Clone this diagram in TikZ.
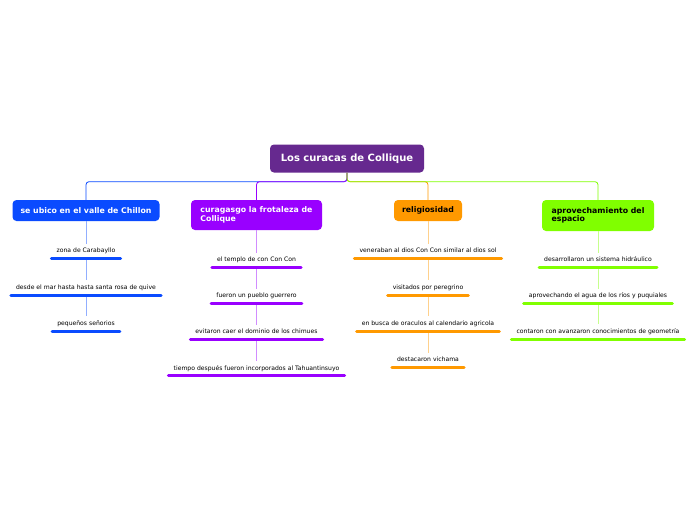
\documentclass[tikz,border=0pt]{standalone}
\usepackage{fontspec}
\setmainfont{DejaVu Sans}
\usetikzlibrary{positioning}
\definecolor{rootpurp}{HTML}{66298F}
\definecolor{chblue}{HTML}{0A4BFF}
\definecolor{chpurp}{HTML}{9900FF}
\definecolor{chorng}{HTML}{FF9900}
\definecolor{chgreen}{HTML}{80FF00}

\begin{document}
\begin{tikzpicture}[
    x=1pt, y=-1pt,
    every node/.style={font=\fontsize{6.1}{7.5}\selectfont},
    rootbox/.style={
      rectangle, rounded corners=4pt, fill=rootpurp, text=white,
      minimum width=154pt, minimum height=28pt,
      font=\fontsize{10}{12}\selectfont\bfseries
    },
    topic/.style={
      rectangle, rounded corners=4pt, fill=#1, align=left,
      minimum height=21pt, inner xsep=8pt,
      font=\fontsize{7.8}{8.6}\selectfont\bfseries
    },
    leaf/.style={inner xsep=5pt, inner ysep=4.3pt, text height=4.6pt, text depth=1.4pt},
    bar/.style={draw=#1, line width=3pt, line cap=round},
    link/.style={draw=#1, line width=0.8pt, rounded corners=3pt},
    twig/.style={draw=#1!45, line width=0.7pt},
  ]
  \useasboundingbox[fill=white] (0,0) rectangle (696,520);

  % ============ Root ============
  \node[rootbox] (root) at (347,158.5) {Los curacas de Collique};

  % ============ Topics ============
  \node[topic=chblue, text=white, minimum width=147pt] (chillon) at (86,210.5)
    {se ubico en el valle de Chillon};
  \node[topic=chpurp, text=white, minimum width=131pt, minimum height=30pt] (colliq) at (256.5,215)
    {curagasgo la frotaleza de\\Collique};
  \node[topic=chorng, text=black, minimum width=68pt] (relig) at (428,210.5)
    {religiosidad};
  \node[topic=chgreen, text=black, minimum width=112pt, minimum height=31pt] (espacio) at (598,215.5)
    {aprovechamiento del\\espacio};

  % ============ Root -> Topics ============
  \draw[link=chblue]  (root.south) -- ++(0,9) -| (chillon.north);
  \draw[link=chorng]  (root.south) -- ++(0,9) -| (relig.north);
  \draw[link=chpurp]  (root.south) -- ++(0,9) -| (colliq.north);
  \draw[link=chgreen] (root.south) -- ++(0,9) -| (espacio.north);

  % ============ Chillon ============
  \node[leaf, below=22.4pt of chillon] (c1) {zona de Carabayllo};
  \node[leaf, below=21.4pt of c1] (c2) {desde el mar hasta hasta santa rosa de quive};
  \node[leaf, below=21.4pt of c2] (c3) {pequeños señorios};

  % ============ Collique ============
  \node[leaf, below=22.4pt of colliq] (f1) {el templo de con Con Con};
  \node[leaf, below=21.1pt of f1] (f2) {fueron un pueblo guerrero};
  \node[leaf, below=21.1pt of f2] (f3) {evitaron caer el dominio de los chimues};
  \node[leaf, below=21.1pt of f3] (f4) {tiempo después fueron incorporados al Tahuantinsuyo};

  % ============ Religiosidad ============
  \node[leaf, below=22.4pt of relig] (r1) {veneraban al dios Con Con similar al dios sol};
  \node[leaf, below=21.4pt of r1] (r2) {visitados por peregrino};
  \node[leaf, below=21.4pt of r2] (r3) {en busca de oraculos al calendario agricola};
  \node[leaf, below=21.4pt of r3] (r4) {destacaron vichama};

  % ============ Espacio ============
  \node[leaf, below=21.4pt of espacio] (e1) {desarrollaron un sistema hidráulico};
  \node[leaf, below=20.9pt of e1] (e2) {aprovechando el agua de los ríos y puquiales};
  \node[leaf, below=20.9pt of e2] (e3) {contaron con avanzaron conocimientos de geometría};

  % ============ Twigs ============
  \draw[twig=chblue]  (chillon) -- (c1) -- (c2) -- (c3);
  \draw[twig=chpurp]  (colliq) -- (f1) -- (f2) -- (f3) -- (f4);
  \draw[twig=chorng]  (relig) -- (r1) -- (r2) -- (r3) -- (r4);
  \draw[twig=chgreen] (espacio) -- (e1) -- (e2) -- (e3);

  % ============ Bars ============
  \foreach \n/\c in {c1/chblue, c2/chblue, c3/chblue,
                     f1/chpurp, f2/chpurp, f3/chpurp, f4/chpurp,
                     r1/chorng, r2/chorng, r3/chorng, r4/chorng,
                     e1/chgreen, e2/chgreen, e3/chgreen}
    \draw[bar=\c] (\n.south west) -- (\n.south east);

\end{tikzpicture}
\end{document}
